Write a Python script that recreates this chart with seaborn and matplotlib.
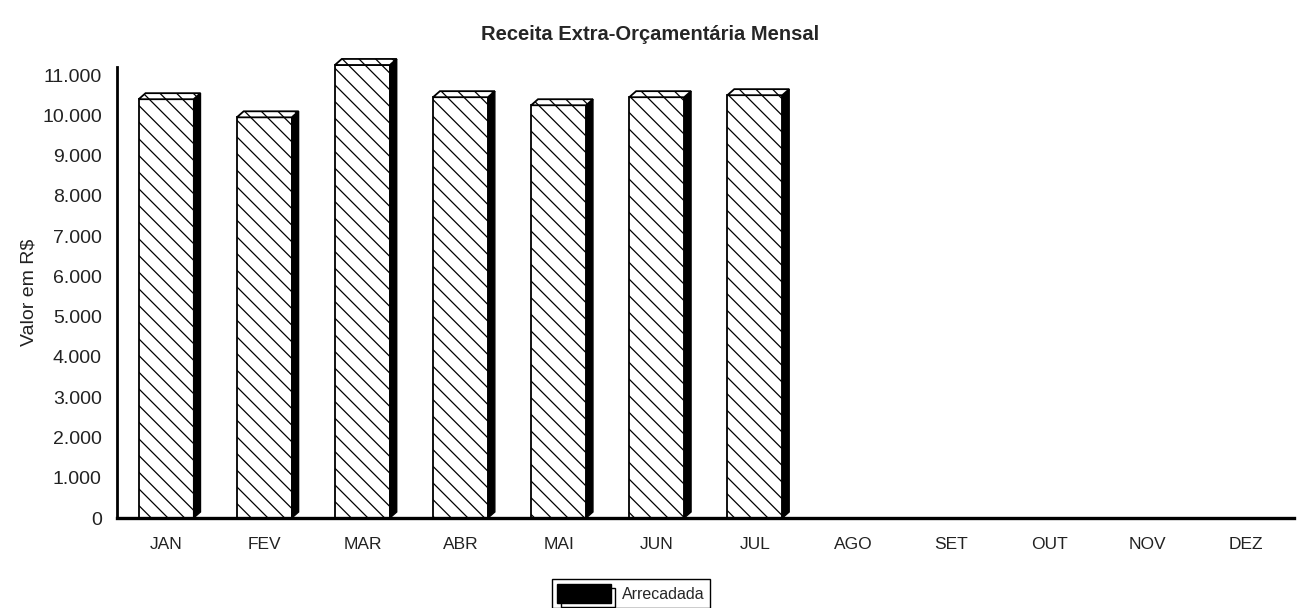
#!/usr/bin/python

'''
Receita extra-orcamentaria mensal - barras com efeito 3D
'''

import numpy as np
import pandas as pd
import matplotlib
matplotlib.use('Agg')
from matplotlib import pyplot as plt
from matplotlib.patches import Polygon, Rectangle
from matplotlib.legend_handler import HandlerBase
from matplotlib.ticker import FuncFormatter
import seaborn as sns

# - data ----------------------------------------------------------------------
meses = ['JAN', 'FEV', 'MAR', 'ABR', 'MAI', 'JUN', 'JUL',
         'AGO', 'SET', 'OUT', 'NOV', 'DEZ']
arrecadada = [10400, 9950, 11250, 10450, 10250, 10450, 10500,
              np.nan, np.nan, np.nan, np.nan, np.nan]
yticks = list(range(0, 11001, 1000))
titulo = 'Receita Extra-Orçamentária Mensal'
ylabel = 'Valor em R$'
legenda = 'Arrecadada'

df = pd.DataFrame({'mes': meses, 'valor': arrecadada})


def fmt_milhar(v, pos):
    return '{:,.0f}'.format(v).replace(',', '.')


class HandlerSombra(HandlerBase):
    # black legend key with an offset outline shadow
    def create_artists(self, legend, orig_handle, xdescent, ydescent,
                       width, height, fontsize, trans):
        off = 3
        sombra = Rectangle((-xdescent + off, -ydescent - off), width, height,
                           facecolor='white', edgecolor='black', lw=1.0,
                           transform=trans)
        frente = Rectangle((-xdescent, -ydescent), width, height,
                           facecolor='black', edgecolor='black', lw=1.0,
                           transform=trans)
        return [sombra, frente]


# - plot ----------------------------------------------------------------------
sns.set_style('white')
plt.rcParams['font.family'] = ['Liberation Sans', 'DejaVu Sans']
plt.rcParams['hatch.linewidth'] = 0.9

fig = plt.figure(figsize=(13.01, 6.08), dpi=100)
ax = fig.add_axes([0.09, 0.148, 0.905, 0.7418])

sns.barplot(data=df, x='mes', y='valor', order=meses, color='white',
            edgecolor='black', linewidth=1.3, width=0.56, hatch='\\\\',
            errorbar=None, ax=ax)

# fake 3D: dark side face and bevelled top
dx, dy = 0.07, 150
for p in list(ax.patches):
    h = p.get_height()
    if not np.isfinite(h) or h <= 0:
        continue
    p.set_clip_on(False)
    x0, w = p.get_x(), p.get_width()
    side = Polygon([(x0 + w, 0), (x0 + w + dx, dy), (x0 + w + dx, h + dy),
                    (x0 + w, h)], closed=True, facecolor='black',
                   edgecolor='black', linewidth=1.0, zorder=p.get_zorder(),
                   clip_on=False)
    top = Polygon([(x0, h), (x0 + dx, h + dy), (x0 + w + dx, h + dy),
                   (x0 + w, h)], closed=True, facecolor='white',
                  edgecolor='black', linewidth=1.3, hatch='\\\\',
                  zorder=p.get_zorder(), clip_on=False)
    ax.add_patch(side)
    ax.add_patch(top)

ax.set_xlim(-0.5, len(meses) - 0.5)
ax.set_ylim(0, 11200)
ax.set_yticks(yticks)
ax.yaxis.set_major_formatter(FuncFormatter(fmt_milhar))
ax.tick_params(axis='y', length=0, pad=11, labelsize=14, colors='#222222')
ax.tick_params(axis='x', length=0, pad=14, labelsize=12.5, colors='#222222')
ax.set_xlabel('')
ax.set_ylabel(ylabel, fontsize=14, color='#222222', labelpad=3)

sns.despine(ax=ax, top=True, right=True)
ax.spines['left'].set_linewidth(2.0)
ax.spines['left'].set_color('black')
ax.spines['bottom'].set_linewidth(2.4)
ax.spines['bottom'].set_color('black')

fig.text(0.4996, 1 - 35 / 608, titulo, ha='center', va='center',
         fontsize=14.5, fontweight='bold')

handle = Rectangle((0, 0), 1, 1, facecolor='black', edgecolor='black')
leg = fig.legend(handles=[handle], labels=[legenda], loc='center',
                 bbox_to_anchor=(0.485, 0.024), fontsize=11.5,
                 frameon=True, fancybox=False, edgecolor='black',
                 framealpha=1, handlelength=3.4, handleheight=1.5,
                 borderpad=0.3, handletextpad=0.7,
                 handler_map={Rectangle: HandlerSombra()})
leg.get_frame().set_linewidth(1.0)

fig.savefig('out.png', dpi=100)
